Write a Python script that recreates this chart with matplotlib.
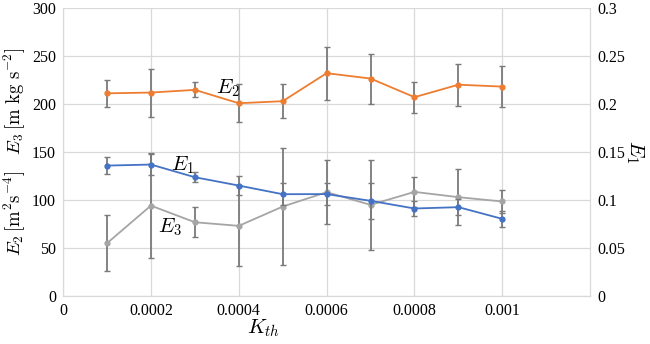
import matplotlib
matplotlib.use('Agg')
import matplotlib.pyplot as plt

plt.rcParams['font.family'] = 'serif'
plt.rcParams['font.serif'] = ['Liberation Serif', 'DejaVu Serif']
plt.rcParams['mathtext.fontset'] = 'cm'

k_th = [0.0001, 0.0002, 0.0003, 0.0004, 0.0005, 0.0006, 0.0007, 0.0008, 0.0009, 0.001]

e1 = [0.1357, 0.1368, 0.1236, 0.1149, 0.1059, 0.1060, 0.0990, 0.0910, 0.0924, 0.0802]
e1_err = [0.0090, 0.0110, 0.0050, 0.0100, 0.0115, 0.0118, 0.0190, 0.0080, 0.0080, 0.0080]

e2 = [211.0, 211.8, 214.6, 200.7, 202.8, 232.0, 226.4, 207.0, 220.0, 218.0]
e2_err = [14.0, 25.0, 7.7, 20.0, 17.5, 27.5, 26.0, 16.0, 22.0, 21.7]

e3 = [54.8, 94.0, 76.7, 72.9, 93.0, 108.0, 94.8, 108.3, 102.8, 98.3]
e3_err = [29.0, 55.0, 15.5, 42.0, 61.0, 33.5, 47.0, 16.0, 29.0, 12.0]

x_ticks = [0, 0.0002, 0.0004, 0.0006, 0.0008, 0.001]
x_tick_labels = ['0', '0.0002', '0.0004', '0.0006', '0.0008', '0.001']
left_ticks = [0, 50, 100, 150, 200, 250, 300]
right_ticks = [0, 0.05, 0.1, 0.15, 0.2, 0.25, 0.3]
right_tick_labels = ['0', '0.05', '0.1', '0.15', '0.2', '0.25', '0.3']

grid_c = '#d9d9d9'
err_c = '#7a7a7a'

fig = plt.figure(figsize=(6.5, 3.44), dpi=100)
ax = fig.add_axes([0.097, 0.14, 0.811, 0.837])
ax2 = ax.twinx()

ax.errorbar(k_th, e2, yerr=e2_err, color='#ed7d31', lw=1.3, marker='o', ms=3.5,
            ecolor=err_c, elinewidth=1.3, capsize=2, capthick=1, zorder=3)
ax.errorbar(k_th, e3, yerr=e3_err, color='#a5a5a5', lw=1.3, marker='o', ms=3.5,
            ecolor=err_c, elinewidth=1.3, capsize=2, capthick=1, zorder=3)
ax2.errorbar(k_th, e1, yerr=e1_err, color='#4472c4', lw=1.3, marker='o', ms=3.5,
             ecolor=err_c, elinewidth=1.3, capsize=2, capthick=1, zorder=3)

ax.set_xlim(0, 0.0012)
ax.set_ylim(0, 300)
ax2.set_ylim(0, 0.3)
ax.set_xticks(x_ticks)
ax.set_xticklabels(x_tick_labels)
ax.set_yticks(left_ticks)
ax2.set_yticks(right_ticks)
ax2.set_yticklabels(right_tick_labels)

ax.grid(True, color=grid_c, lw=0.9)
ax.set_axisbelow(True)
for a in (ax, ax2):
    a.tick_params(length=0, labelsize=11.5, pad=5)
    for s in a.spines.values():
        s.set_color(grid_c)
    a.spines['top'].set_visible(False)

ax.text(0.000375, 216, r'$E_2$', fontsize=15, va='center', ha='center')
ax.text(0.000273, 136, r'$E_1$', fontsize=15, va='center', ha='center')
ax.text(0.000243, 72, r'$E_3$', fontsize=15, va='center', ha='center')

ax.set_ylabel(r'$E_2\,[\mathrm{m^2 s^{-4}}]\ \ \ E_3\,[\mathrm{m\ kg\ s^{-2}}]$', fontsize=13.5)
ax.yaxis.set_label_coords(-0.068, 0.5)
ax2.set_ylabel(r'$E_1$', fontsize=15, rotation=270, labelpad=15)
ax.set_xlabel(r'$K_{th}$', fontsize=15)
ax.xaxis.set_label_coords(0.38, -0.075)

fig.savefig('out.png', dpi=100)
